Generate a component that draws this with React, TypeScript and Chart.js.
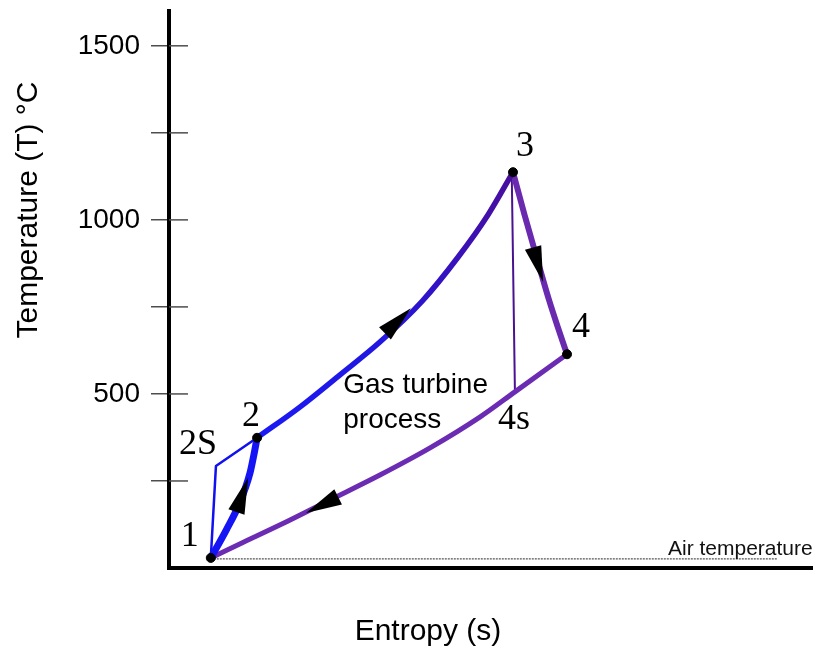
import { useEffect, useRef } from 'react';
import { Chart, registerables } from 'chart.js';

Chart.register(...registerables);

// Gas turbine (Brayton) cycle on a T-s diagram.
// Entropy s in arbitrary units (0-10), temperature T in °C.

// 1 -> 2 real compression
const compressionS = [0.65, 0.89, 1.1, 1.26, 1.32, 1.37];
const compressionT = [29, 109, 187, 273, 325, 374];
// 1 -> 2S -> 2 isentropic compression
const idealCompS = [0.65, 0.73, 1.37];
const idealCompT = [29, 293, 374];
// 2 -> 3 heat addition
const heatAddS = [1.37, 2.04, 2.66, 3.28, 3.94, 4.5, 4.96, 5.35];
const heatAddT = [374, 463, 555, 649, 767, 894, 1014, 1137];
// 3 -> 4 real expansion
const expansionS = [5.35, 5.53, 5.72, 5.91, 6.05, 6.19];
const expansionT = [1137, 1014, 891, 770, 690, 614];
// 3 -> 4s isentropic expansion
const idealExpS = [5.33, 5.38];
const idealExpT = [1137, 506];
// 4 -> 1 heat rejection
const heatRejS = [6.19, 5.38, 4.84, 4.06, 3.28, 2.5, 1.73, 1.1, 0.65];
const heatRejT = [614, 506, 434, 345, 267, 195, 124, 69, 29];
// ambient air temperature
const airS = [0.65, 9.46];
const airT = [26, 26];

// state points
const stateNames = ['1', '2', '3', '4'];
const stateS = [0.65, 1.37, 5.35, 6.19];
const stateT = [29, 374, 1137, 614];
const idealNames = ['2S', '4s'];
const idealS = [0.73, 5.38];
const idealT = [293, 506];

// flow-direction arrows
const arrowProcess = ['compression', 'heatAdd', 'expansion', 'heatRej'];
const arrowS = [1.14, 3.56, 5.74, 2.38];
const arrowT = [210, 710, 871, 181];

// y axis ticks
const yTickValues = [250, 500, 750, 1000, 1250, 1500];
const yTickLabels = ['', '500', '', '1000', '', '1500'];

const SANS = '"Liberation Sans", Arial, sans-serif';
const SERIF = '"Liberation Serif", "Times New Roman", serif';

const toXY = (s: number[], t: number[]) => s.map((v, i) => ({ x: v, y: t[i] }));

const processes: Record<string, [number[], number[]]> = {
  compression: [compressionS, compressionT],
  heatAdd: [heatAddS, heatAddT],
  expansion: [expansionS, expansionT],
  heatRej: [heatRejS, heatRejT],
};

const labelOffsets: Record<string, [number, number]> = {
  '1': [-21, -21],
  '2': [-6, -21],
  '3': [12, -26],
  '4': [14, -27],
  '2S': [-18, -21],
  '4s': [-1, 28],
};

const cycleDecor = {
  id: 'cycleDecor',
  afterDatasetsDraw(chart: any) {
    const { ctx } = chart;
    const xs = chart.scales.x;
    const ys = chart.scales.y;
    ctx.save();
    ctx.fillStyle = '#000';
    arrowProcess.forEach((name, i) => {
      const [S, T] = processes[name];
      const pts = S.map((s, k) => [xs.getPixelForValue(s), ys.getPixelForValue(T[k])]);
      const cx = xs.getPixelForValue(arrowS[i]);
      const cy = ys.getPixelForValue(arrowT[i]);
      let best = 0;
      let bestD = Infinity;
      for (let k = 0; k < pts.length - 1; k++) {
        const [ax, ay] = pts[k];
        const [bx, by] = pts[k + 1];
        const vx = bx - ax;
        const vy = by - ay;
        const len2 = vx * vx + vy * vy || 1;
        let u = ((cx - ax) * vx + (cy - ay) * vy) / len2;
        u = Math.max(0, Math.min(1, u));
        const dx = ax + u * vx - cx;
        const dy = ay + u * vy - cy;
        const d = dx * dx + dy * dy;
        if (d < bestD) {
          bestD = d;
          best = k;
        }
      }
      const dx = pts[best + 1][0] - pts[best][0];
      const dy = pts[best + 1][1] - pts[best][1];
      const l = Math.hypot(dx, dy) || 1;
      const ux = dx / l;
      const uy = dy / l;
      const nx = -uy;
      const ny = ux;
      const L = 36;
      const W = 8.5;
      ctx.beginPath();
      ctx.moveTo(cx + (ux * L) / 2, cy + (uy * L) / 2);
      ctx.lineTo(cx - (ux * L) / 2 + nx * W, cy - (uy * L) / 2 + ny * W);
      ctx.lineTo(cx - (ux * L) / 2 - nx * W, cy - (uy * L) / 2 - ny * W);
      ctx.closePath();
      ctx.fill();
    });
    ctx.restore();
  },
  afterDraw(chart: any) {
    const { ctx, chartArea } = chart;
    const xs = chart.scales.x;
    const ys = chart.scales.y;
    ctx.save();

    // tick marks continue across the temperature axis
    ctx.strokeStyle = '#4d4d4d';
    ctx.lineWidth = 1.5;
    yTickValues.forEach((v) => {
      const y = ys.getPixelForValue(v);
      ctx.beginPath();
      ctx.moveTo(chartArea.left, y);
      ctx.lineTo(chartArea.left + 19, y);
      ctx.stroke();
    });

    // state labels
    ctx.fillStyle = '#000';
    ctx.font = `36px ${SERIF}`;
    ctx.textAlign = 'center';
    ctx.textBaseline = 'middle';
    const drawLabel = (name: string, s: number, t: number) => {
      const [ox, oy] = labelOffsets[name];
      ctx.fillText(name, xs.getPixelForValue(s) + ox, ys.getPixelForValue(t) + oy);
    };
    stateNames.forEach((n, i) => drawLabel(n, stateS[i], stateT[i]));
    idealNames.forEach((n, i) => drawLabel(n, idealS[i], idealT[i]));

    // process caption
    ctx.font = `28px ${SANS}`;
    ctx.textAlign = 'left';
    ctx.textBaseline = 'alphabetic';
    const capX = xs.getPixelForValue(2.71);
    ctx.fillText('Gas turbine', capX, ys.getPixelForValue(504));
    ctx.fillText('process', capX, ys.getPixelForValue(402));

    // ambient line caption
    ctx.font = `21px ${SANS}`;
    ctx.fillStyle = '#111';
    ctx.fillText('Air temperature', 668, 555);

    // axis titles
    ctx.fillStyle = '#000';
    ctx.font = `30px ${SANS}`;
    ctx.textAlign = 'center';
    ctx.fillText('Entropy (s)', 428, 640);
    ctx.translate(37, 210);
    ctx.rotate(-Math.PI / 2);
    ctx.fillText('Temperature (T) °C', 0, 0);

    ctx.restore();
  },
};

export default function App() {
  const canvasRef = useRef<HTMLCanvasElement | null>(null);

  useEffect(() => {
    const canvas = canvasRef.current;
    if (!canvas) return;

    const heatAddGradient = (c: any) => {
      const chart = c.chart;
      if (!chart.chartArea) return '#1a1af5';
      const xs = chart.scales.x;
      const x0 = xs.getPixelForValue(heatAddS[0]);
      const x1 = xs.getPixelForValue(heatAddS[heatAddS.length - 1]);
      const g = chart.ctx.createLinearGradient(x0, 0, x1, 0);
      g.addColorStop(0, '#1a1af5');
      g.addColorStop(0.5, '#2216e0');
      g.addColorStop(1, '#4a0e9c');
      return g;
    };

    const curve = (data: any[], color: any, width: number, extra: any = {}) => ({
      data,
      borderColor: color,
      borderWidth: width,
      showLine: true,
      pointRadius: 0,
      pointHoverRadius: 0,
      cubicInterpolationMode: 'monotone',
      borderCapStyle: 'round',
      borderJoinStyle: 'round',
      ...extra,
    });

    const chart = new Chart(canvas, {
      type: 'scatter',
      data: {
        datasets: [
          {
            data: toXY(stateS, stateT),
            backgroundColor: '#000',
            borderColor: '#000',
            pointRadius: 4.5,
            pointHoverRadius: 4.5,
            showLine: false,
          },
          curve(toXY(compressionS, compressionT), '#1414f5', 7),
          curve(toXY(heatAddS, heatAddT), heatAddGradient, 5.5),
          curve(toXY(expansionS, expansionT), '#6a2ab0', 6),
          curve(toXY(heatRejS, heatRejT), '#6b2bb3', 5),
          curve(toXY(idealCompS, idealCompT), '#1010f0', 2.5, { cubicInterpolationMode: 'default', tension: 0 }),
          curve(toXY(idealExpS, idealExpT), '#4a1290', 2, { cubicInterpolationMode: 'default', tension: 0 }),
          curve(toXY(airS, airT), '#555', 1.2, {
            cubicInterpolationMode: 'default',
            tension: 0,
            borderDash: [2, 1],
            borderCapStyle: 'butt',
          }),
        ] as any,
      },
      options: {
        responsive: false,
        animation: false,
        events: [],
        layout: { padding: { top: 11, right: 6, left: 0, bottom: 0 } },
        plugins: { legend: { display: false }, tooltip: { enabled: false } },
        scales: {
          x: {
            type: 'linear',
            min: 0,
            max: 10,
            ticks: { display: false },
            grid: { display: false },
            border: { display: true, color: '#000', width: 4 },
            afterFit: (scale: any) => {
              scale.height = 78;
              scale.paddingLeft = 0;
              scale.paddingRight = 0;
            },
          },
          y: {
            type: 'linear',
            min: 0,
            max: 1600,
            afterBuildTicks: (scale: any) => {
              scale.ticks = yTickValues.map((v) => ({ value: v }));
            },
            ticks: {
              autoSkip: false,
              padding: 11,
              color: '#000',
              font: { family: SANS, size: 28 },
              callback: (_v: any, i: number) => yTickLabels[i] ?? '',
            },
            grid: {
              display: true,
              drawOnChartArea: false,
              drawTicks: true,
              tickLength: 18,
              color: '#4d4d4d',
              lineWidth: 1.5,
            },
            border: { display: true, color: '#000', width: 4 },
            afterFit: (scale: any) => {
              scale.width = 169;
              scale.paddingTop = 0;
              scale.paddingBottom = 0;
            },
          },
        },
      } as any,
      plugins: [cycleDecor],
    });

    return () => chart.destroy();
  }, []);

  return (
    <div style={{ position: 'absolute', left: 0, top: 0, width: 818, height: 646, background: '#fff' }}>
      <canvas ref={canvasRef} width={818} height={646} style={{ display: 'block' }} />
    </div>
  );
}
